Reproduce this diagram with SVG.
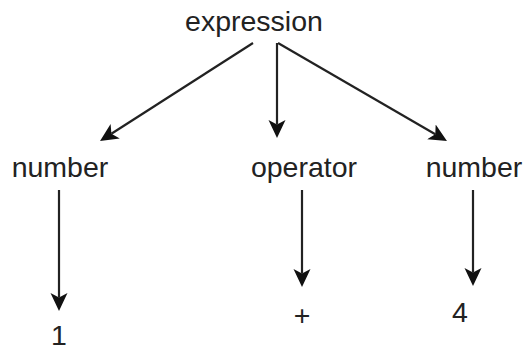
<svg xmlns="http://www.w3.org/2000/svg" width="525" height="351" viewBox="0 0 525 351">
<style>
text{font-family:"Liberation Sans",Arial,Helvetica,sans-serif;font-size:28.5px;fill:#222;text-anchor:middle}
.e{stroke:#222;stroke-width:2.2;fill:none;marker-end:url(#ah)}
</style>
<defs>
<marker id="ah" markerUnits="userSpaceOnUse" markerWidth="22" markerHeight="22" viewBox="0 -11 22 22" refX="4.5" refY="0" orient="auto">
<path d="M18,0 L0,-8.5 L4.5,0 L0,8.5 Z" fill="#111"/>
</marker>
</defs>
<rect width="525" height="351" fill="#fff"/>
<g id="connectors">
<line class="e" x1="253" y1="43" x2="111.4" y2="133.7"/>
<line class="e" x1="277" y1="43" x2="277" y2="124.5"/>
<line class="e" x1="278" y1="43" x2="435.3" y2="134.2"/>
<line class="e" x1="59" y1="190" x2="59" y2="297.5"/>
<line class="e" x1="302" y1="190" x2="302" y2="273.5"/>
<line class="e" x1="473" y1="190" x2="473" y2="272.5"/>
</g>
<g id="expression"><text x="254" y="31">expression</text></g>
<g id="number1"><text x="60" y="177">number</text></g>
<g id="operator"><text x="304" y="177">operator</text></g>
<g id="number2"><text x="474" y="177">number</text></g>
<g id="one"><text x="59" y="345">1</text></g>
<g id="plus"><text x="302" y="325">+</text></g>
<g id="four"><text x="460" y="322">4</text></g>
</svg>
